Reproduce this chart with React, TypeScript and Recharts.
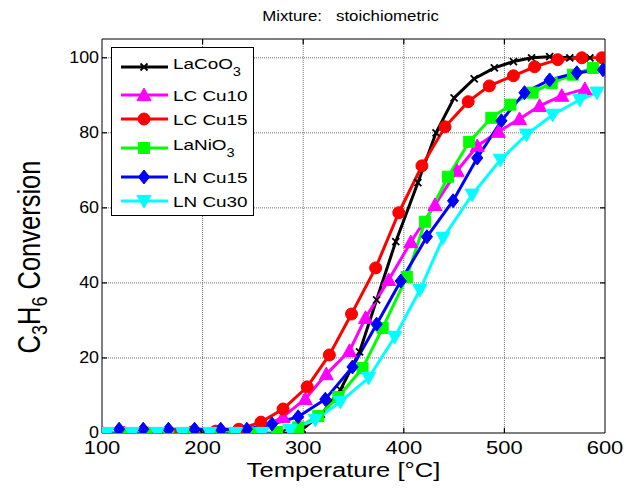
import React from "react";
import { LineChart, Line, XAxis, YAxis, Legend } from "recharts";

// ---- data ----
const title = "Mixture:   stoichiometric";
const xTicks = [100, 200, 300, 400, 500, 600];
const yTicks = [0, 20, 40, 60, 80, 100];

const lacoT = [100, 120, 140, 160, 180, 200, 220, 240, 260, 280, 299, 318, 337, 356, 373, 392, 414, 432, 450, 470, 490, 509, 527, 545, 565, 585];
const lacoV = [0, 0, 0, 0, 0, 0, 0, 0, 0, 0.3, 1, 5, 11.5, 21.6, 35.5, 51, 66.7, 80, 89.3, 94.4, 97.3, 99, 100, 100.3, 100, 100];

const lc10T = [100, 122, 144, 166, 188, 210, 232, 258, 280, 302, 323, 346, 362, 385, 407, 431, 453, 473, 494, 515, 535, 557, 580];
const lc10V = [0, 0, 0, 0, 0, 0, 0.3, 1.2, 4.3, 9.1, 15.7, 21.9, 30.7, 40.8, 50.9, 60.8, 69.9, 76.5, 80.3, 83.7, 87.2, 89.9, 91.7];

const lc15T = [100, 122, 145, 168, 190, 213, 236, 258, 280, 304, 326, 348, 372, 395, 418, 441, 464, 485, 509, 530, 553, 577, 597];
const lc15V = [0, 0, 0, 0, 0.3, 0.5, 1, 2.9, 6.4, 12.3, 20.8, 31.7, 44, 58.7, 71.2, 81.6, 88.3, 92.5, 95.2, 97.6, 99.5, 100, 100];

const laniT = [100, 122, 144, 166, 188, 210, 232, 253, 274, 295, 315, 335, 359, 379, 403, 421, 444, 465, 487, 506, 528, 547, 568, 588];
const laniV = [0, 0, 0, 0, 0, 0, 0, 0, 0.3, 1.5, 4.5, 9.6, 17.3, 28, 41.6, 56.3, 68.3, 77.6, 84, 87.5, 90.7, 93.3, 95.5, 97.3];

const ln15T = [117, 141, 166, 192, 218, 244, 269, 295, 322, 349, 373, 397, 423, 449, 473, 497, 520, 545, 572, 598];
const ln15V = [1, 1, 1, 1, 1, 1, 2.4, 4.3, 9, 17.6, 29, 40.5, 52.3, 61.9, 73.3, 83.2, 90.7, 94.1, 96, 96.8];

const ln30T = [105, 130, 155, 180, 207, 233, 259, 287, 312, 337, 365, 391, 416, 439, 468, 496, 522, 548, 575, 592];
const ln30V = [0, 0, 0, 0, 0, 0, 0, 0.8, 3.5, 8.3, 14.7, 25.6, 38.1, 52, 63.5, 72.8, 79.5, 84.8, 88.8, 90.7];

const build = (t: number[], v: number[]) => t.map((x, i) => ({ t: x, v: v[i] }));

const series = [
  { name: "LaCoO3", base: "LaCoO", sub: "3", color: "#000000", marker: "x", data: build(lacoT, lacoV) },
  { name: "LC Cu10", base: "LC Cu10", sub: "", color: "#ff00ff", marker: "tu", data: build(lc10T, lc10V) },
  { name: "LC Cu15", base: "LC Cu15", sub: "", color: "#ff0000", marker: "o", data: build(lc15T, lc15V) },
  { name: "LaNiO3", base: "LaNiO", sub: "3", color: "#00ff00", marker: "s", data: build(laniT, laniV) },
  { name: "LN Cu15", base: "LN Cu15", sub: "", color: "#0000ff", marker: "d", data: build(ln15T, ln15V) },
  { name: "LN Cu30", base: "LN Cu30", sub: "", color: "#00ffff", marker: "tv", data: build(ln30T, ln30V) },
];

const X_MIN = 100, X_MAX = 600, Y_MIN = 0, Y_MAX = 105;

// ---- style ----
const SX = 1.22;
const FONT = "'Liberation Sans', Arial, Helvetica, sans-serif";
const GRID = "#6e6e6e";

function Marker({ kind, color, cx, cy }: { kind: string; color: string; cx: number; cy: number }) {
  if (cx == null || cy == null || isNaN(cx) || isNaN(cy)) return <g />;
  switch (kind) {
    case "x": {
      const r = 3.5;
      return (
        <g stroke={color} strokeWidth={1.8}>
          <line x1={cx - r} y1={cy - r} x2={cx + r} y2={cy + r} />
          <line x1={cx - r} y1={cy + r} x2={cx + r} y2={cy - r} />
        </g>
      );
    }
    case "tu": {
      const r = 7;
      return <polygon points={`${cx},${cy - r} ${cx + r},${cy + r * 0.8} ${cx - r},${cy + r * 0.8}`} fill={color} stroke={color} />;
    }
    case "tv": {
      const r = 7;
      return <polygon points={`${cx},${cy + r} ${cx + r},${cy - r * 0.8} ${cx - r},${cy - r * 0.8}`} fill={color} stroke={color} />;
    }
    case "o":
      return <circle cx={cx} cy={cy} r={6} fill={color} stroke={color} />;
    case "s":
      return <rect x={cx - 5.5} y={cy - 5.5} width={11} height={11} fill={color} stroke={color} />;
    case "d": {
      const r = 7;
      return <polygon points={`${cx},${cy - r} ${cx + r * 0.8},${cy} ${cx},${cy + r} ${cx - r * 0.8},${cy}`} fill={color} stroke={color} />;
    }
  }
  return <g />;
}

const XTick = (p: any) => (
  <text transform={`translate(${p.x},${p.y + 13}) scale(${SX},1)`} textAnchor="middle" fontSize={18} fontFamily={FONT} fill="#000">
    {p.payload.value}
  </text>
);
const YTick = (p: any) => (
  <text transform={`translate(${p.x + 5},${p.y + 5}) scale(1.05,1)`} textAnchor="end" fontSize={17} fontFamily={FONT} fill="#000">
    {p.payload.value}
  </text>
);

const XLabel = (p: any) => {
  const vb = p.viewBox;
  return (
    <text transform={`translate(${vb.x + vb.width / 2 - 10},${vb.y + 44}) scale(${SX},1)`} textAnchor="middle" fontSize={21} fontFamily={FONT} fill="#000">
      Temperature [°C]
    </text>
  );
};
const YLabel = (p: any) => {
  const vb = p.viewBox;
  return (
    <text transform={`translate(${40},${vb.y + vb.height / 2 + 21}) scale(${SX},1) rotate(-90)`} textAnchor="middle" fontSize={25.5} fontFamily={FONT} fill="#000">
      C<tspan fontSize={18} dy={6}>3</tspan>
      <tspan dy={-6}>H</tspan>
      <tspan fontSize={18} dy={6}>6</tspan>
      <tspan dy={-6}> Conversion</tspan>
    </text>
  );
};
const TitleLabel = (p: any) => {
  const vb = p.viewBox;
  return (
    <text transform={`translate(${vb.x + vb.width / 2 - 3},${vb.y - 18}) scale(${SX},1)`} textAnchor="middle" fontSize={13.8} fontFamily={FONT} fill="#000" xmlSpace="preserve" style={{ whiteSpace: "pre" }}>
      {title}
    </text>
  );
};

const rowY = [20, 48, 72, 101, 130, 154];
const LegendBox = () => (
  <svg width={144} height={170} style={{ display: "block" }}>
    <rect x={0.5} y={0.5} width={142} height={168} fill="#fff" stroke="#000" strokeWidth={1} />
    {series.map((s, i) => {
      const y = rowY[i];
      return (
        <g key={s.name}>
          <line x1={10} y1={y} x2={57} y2={y} stroke={s.color} strokeWidth={3} />
          <Marker kind={s.marker} color={s.color} cx={33} cy={y} />
          <text transform={`translate(62,${y + (s.sub ? 1.5 : 5.5)}) scale(${SX},1)`} fontSize={15.5} fontFamily={FONT} fill="#000">
            {s.base}
            {s.sub ? <tspan fontSize={12} dy={7}>{s.sub}</tspan> : null}
          </text>
        </g>
      );
    })}
  </svg>
);

// grid and inward tick segments, expressed in data units and drawn through the chart scales
const gridX = xTicks.filter((t) => t > X_MIN && t < X_MAX);
const gridY = yTicks.filter((t) => t > Y_MIN && t < Y_MAX);
const TICK_Y = 1.4; // ~5px
const TICK_X = 5; // ~5px
const gridLines = [
  ...gridX.map((t) => [{ t, v: Y_MIN }, { t, v: Y_MAX }]),
  ...gridY.map((v) => [{ t: X_MIN, v }, { t: X_MAX, v }]),
];
const tickSegs = [
  ...gridX.map((t) => [{ t, v: Y_MIN }, { t, v: Y_MIN + TICK_Y }]),
  ...gridX.map((t) => [{ t, v: Y_MAX }, { t, v: Y_MAX - TICK_Y }]),
  ...gridY.map((v) => [{ t: X_MIN, v }, { t: X_MIN + TICK_X, v }]),
  ...gridY.map((v) => [{ t: X_MAX, v }, { t: X_MAX - TICK_X, v }]),
];

export default function App() {
  return (
    <div style={{ position: "absolute", left: 0, top: 0, width: 626, height: 492, background: "#fff" }}>
      <LineChart width={626} height={492} margin={{ top: 39, right: 21, left: 0, bottom: 0 }}>
        <XAxis xAxisId="b" dataKey="t" type="number" domain={[X_MIN, X_MAX]} ticks={xTicks} allowDataOverflow
          height={59} tickLine={false} tick={XTick} axisLine={{ stroke: "#000" }} label={XLabel} />
        <XAxis xAxisId="t" orientation="top" dataKey="t" type="number" domain={[X_MIN, X_MAX]} ticks={xTicks} allowDataOverflow
          mirror tick={false} tickLine={false} axisLine={{ stroke: "#000" }} label={TitleLabel} />
        <YAxis yAxisId="l" type="number" domain={[Y_MIN, Y_MAX]} ticks={yTicks} allowDataOverflow width={102}
          tickLine={false} tick={YTick} axisLine={{ stroke: "#000" }} label={YLabel} />
        <YAxis yAxisId="r" orientation="right" type="number" domain={[Y_MIN, Y_MAX]} ticks={yTicks} allowDataOverflow
          mirror tick={false} tickLine={false} axisLine={{ stroke: "#000" }} />
        {gridLines.map((d, i) => (
          <Line key={`g${i}`} xAxisId="b" yAxisId="l" data={d} dataKey="v" type="linear" legendType="none"
            stroke={GRID} strokeWidth={1} strokeDasharray="1 1" dot={false} activeDot={false} isAnimationActive={false} />
        ))}
        {tickSegs.map((d, i) => (
          <Line key={`k${i}`} xAxisId="b" yAxisId="l" data={d} dataKey="v" type="linear" legendType="none"
            stroke="#000" strokeWidth={1.2} dot={false} activeDot={false} isAnimationActive={false} />
        ))}
        {series.map((s) => (
          <Line key={s.name} xAxisId="b" yAxisId="l" data={s.data} dataKey="v" name={s.name} type="linear"
            stroke={s.color} strokeWidth={3} isAnimationActive={false}
            dot={(p: any) => <Marker key={`${s.name}-${p.index}`} kind={s.marker} color={s.color} cx={p.cx} cy={p.cy} />}
            activeDot={false} />
        ))}
        <Legend layout="vertical" align="center" verticalAlign="middle" content={LegendBox}
          wrapperStyle={{ position: "absolute", left: 111, top: 47, width: 144, height: 170 }} />
      </LineChart>
    </div>
  );
}
